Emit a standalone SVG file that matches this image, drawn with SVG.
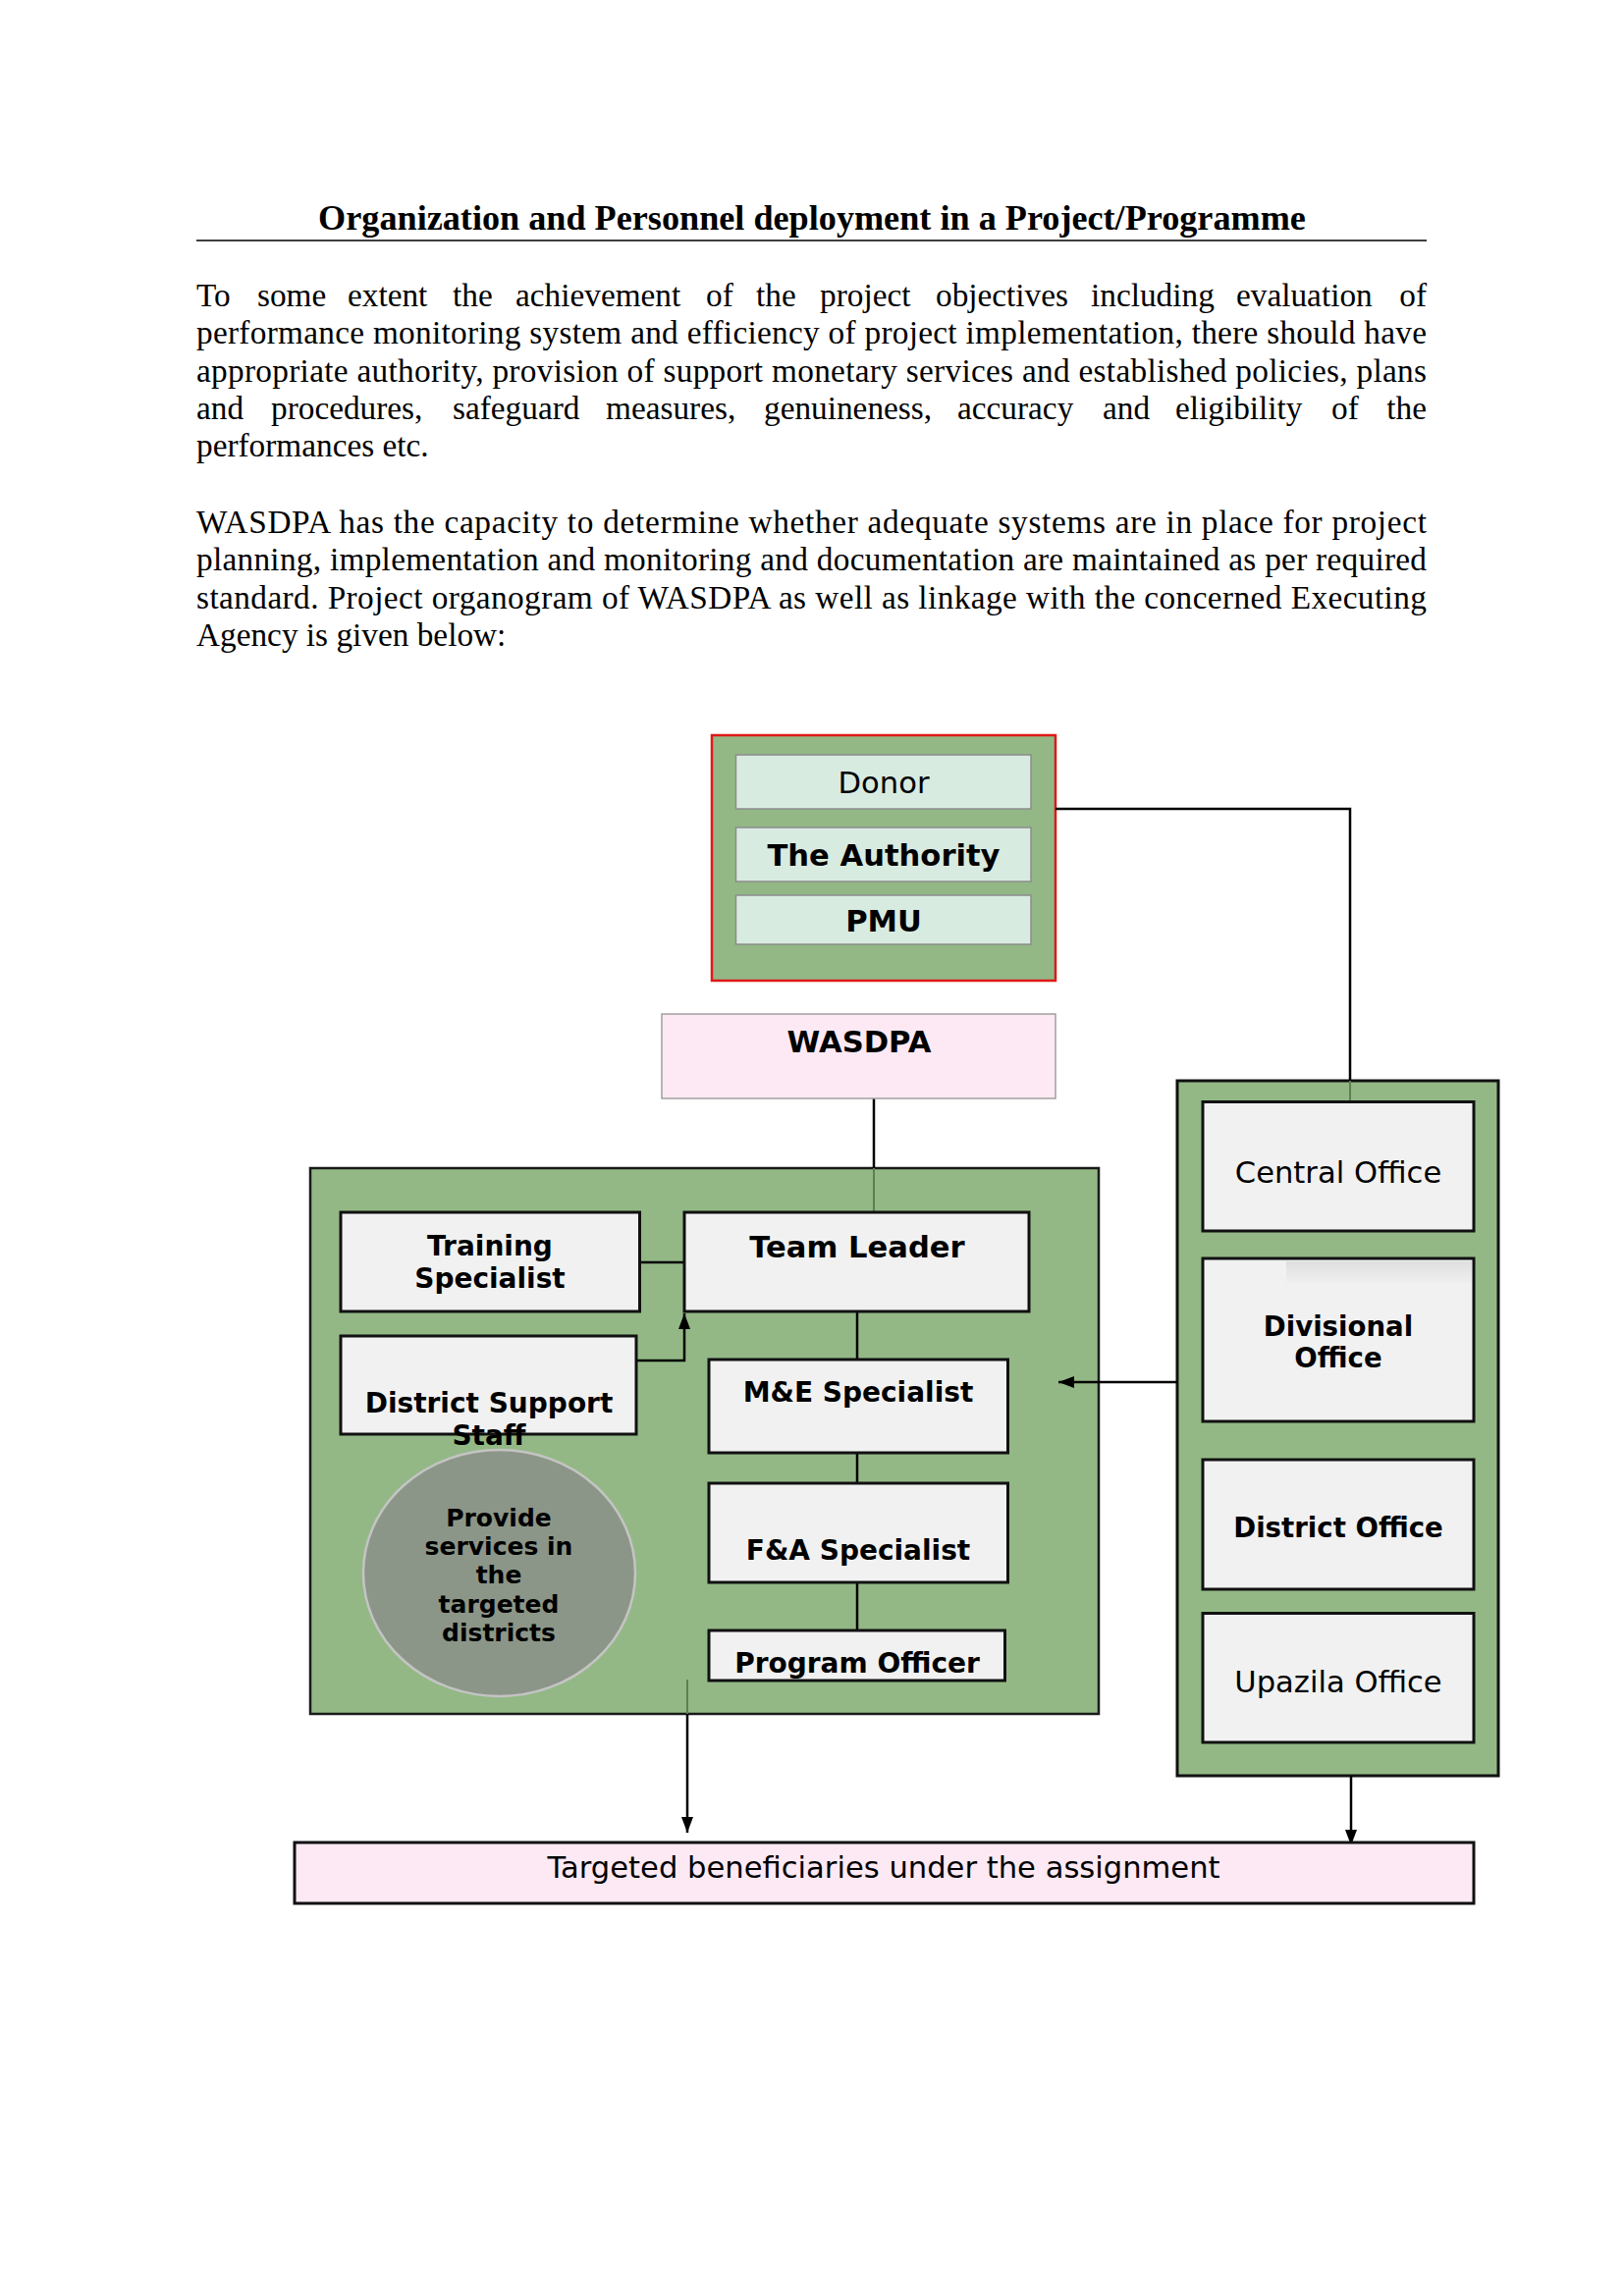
<svg xmlns="http://www.w3.org/2000/svg" width="1654" height="2339" viewBox="0 0 1654 2339">
<style>
.body{font-family:"Liberation Serif","Times New Roman",serif;font-size:33.3px;fill:#000}
.title{font-family:"Liberation Serif","Times New Roman",serif;font-size:36.2px;font-weight:bold;fill:#000}
.lbl{font-family:"DejaVu Sans","Noto Sans",sans-serif;font-size:30.6px;fill:#000;text-anchor:middle}
.b{font-weight:bold}
.s28{font-size:28px}
.s27{font-size:27.6px}
.s25{font-size:25px}
.green{fill:#93b886}
.gbox{fill:#f1f1f1;stroke:#111;stroke-width:3}
.mint{fill:#d8ebe0;stroke:#8c8c8c;stroke-width:1.5}
.conn{stroke:#000;stroke-width:2.5;fill:none}
.connin{stroke:#5d7f52;stroke-width:2;fill:none}
</style>
<defs>
<marker id="arr" markerUnits="userSpaceOnUse" markerWidth="16" markerHeight="12" refX="16" refY="6" orient="auto">
<path d="M0,0 L16,6 L0,12 z" fill="#000"/>
</marker>
<linearGradient id="stripe" x1="0" y1="0" x2="0" y2="1">
<stop offset="0" stop-color="#d2d2d2"/>
<stop offset="1" stop-color="#f1f1f1"/>
</linearGradient>
</defs>

<g id="text-block">
<text class="title" x="827" y="234" text-anchor="middle">Organization and Personnel deployment in a Project/Programme</text>
<line x1="200" y1="245" x2="1453" y2="245" stroke="#000" stroke-width="1.6"/>
<text class="body" y="312"><tspan x="200">To</tspan><tspan x="262">some</tspan><tspan x="354">extent</tspan><tspan x="461">the</tspan><tspan x="525">achievement</tspan><tspan x="719">of</tspan><tspan x="770">the</tspan><tspan x="835">project</tspan><tspan x="953">objectives</tspan><tspan x="1111">including</tspan><tspan x="1259">evaluation</tspan></text>
<text class="body" x="1453" y="312" text-anchor="end">of</text>
<text class="body" x="200" y="350" textLength="1253" lengthAdjust="spacing">performance monitoring system and efficiency of project implementation, there should have</text>
<text class="body" x="200" y="389" textLength="1253" lengthAdjust="spacing">appropriate authority, provision of support monetary services and established policies, plans</text>
<text class="body" y="427"><tspan x="200">and</tspan><tspan x="276">procedures,</tspan><tspan x="461">safeguard</tspan><tspan x="617">measures,</tspan><tspan x="778">genuineness,</tspan><tspan x="975">accuracy</tspan><tspan x="1123">and</tspan><tspan x="1197">eligibility</tspan><tspan x="1356">of</tspan></text>
<text class="body" x="1453" y="427" text-anchor="end">the</text>
<text class="body" x="200" y="465">performances etc.</text>
<text class="body" x="200" y="543" textLength="1253" lengthAdjust="spacing">WASDPA has the capacity to determine whether adequate systems are in place for project</text>
<text class="body" x="200" y="581" textLength="1253" lengthAdjust="spacing">planning, implementation and monitoring and documentation are maintained as per required</text>
<text class="body" x="200" y="620" textLength="1253" lengthAdjust="spacing">standard. Project organogram of WASDPA as well as linkage with the concerned Executing</text>
<text class="body" x="200" y="658">Agency is given below:</text>
</g>

<g id="containers">
<rect id="top-group" x="725" y="749" width="350" height="250" class="green" stroke="#e01818" stroke-width="2.5"/>
<rect id="project-team" x="316" y="1190" width="803" height="556" class="green" stroke="#1a1a1a" stroke-width="2.5"/>
<rect id="executing-agency" x="1199" y="1101" width="327" height="708" class="green" stroke="#111" stroke-width="3"/>
</g>

<g id="connectors">
<polyline class="conn" points="1075,824 1375,824 1375,1101"/>
<line class="connin" x1="1375" y1="1101" x2="1375" y2="1122"/>
<line class="conn" x1="890" y1="1119" x2="890" y2="1190"/>
<line class="connin" x1="890" y1="1190" x2="890" y2="1235"/>
<line class="conn" x1="651" y1="1286" x2="697" y2="1286"/>
<polyline class="conn" points="648,1386 697,1386 697,1338" marker-end="url(#arr)"/>
<line class="conn" x1="873" y1="1336" x2="873" y2="1385"/>
<line class="conn" x1="873" y1="1480" x2="873" y2="1511"/>
<line class="conn" x1="873" y1="1612" x2="873" y2="1661"/>
<line class="conn" x1="1199" y1="1408" x2="1078" y2="1408" marker-end="url(#arr)"/>
<line class="connin" x1="700" y1="1711" x2="700" y2="1746"/>
<line class="conn" x1="700" y1="1746" x2="700" y2="1867" stroke-width="2" marker-end="url(#arr)"/>
<line class="conn" x1="1376" y1="1809" x2="1376" y2="1880" stroke-width="2" marker-end="url(#arr)"/>
</g>

<g id="donor">
<rect x="749.5" y="769" width="300.5" height="55" class="mint"/>
<text class="lbl" x="900" y="808">Donor</text>
</g>
<g id="authority">
<rect x="749.5" y="843" width="300.5" height="55" class="mint"/>
<text class="lbl b" x="900" y="882">The Authority</text>
</g>
<g id="pmu">
<rect x="749.5" y="912" width="300.5" height="50" class="mint"/>
<text class="lbl b" x="900" y="949">PMU</text>
</g>

<g id="wasdpa">
<rect x="674" y="1033" width="401" height="86" fill="#fde9f4" stroke="#a0a0a0" stroke-width="1.5"/>
<text class="lbl b" x="875" y="1072">WASDPA</text>
</g>

<g id="training-specialist">
<rect x="347" y="1235" width="304.5" height="101" class="gbox"/>
<text class="lbl b s28" x="499" y="1279">Training</text>
<text class="lbl b s28" x="499" y="1312">Specialist</text>
</g>
<g id="team-leader">
<rect x="697" y="1235" width="351" height="101" class="gbox"/>
<text class="lbl b" x="873" y="1281">Team Leader</text>
</g>
<g id="district-support-staff">
<rect x="347" y="1361" width="301" height="100" class="gbox"/>
<text class="lbl b s28" x="498" y="1439">District Support</text>
<text class="lbl b s28" x="498" y="1472">Staff</text>
</g>
<g id="me-specialist">
<rect x="722" y="1385" width="304.5" height="95" class="gbox"/>
<text class="lbl b s28" x="874" y="1428">M&amp;E Specialist</text>
</g>
<g id="fa-specialist">
<rect x="722" y="1511" width="304.5" height="101" class="gbox"/>
<text class="lbl b s28" x="874" y="1589">F&amp;A Specialist</text>
</g>
<g id="program-officer">
<rect x="722" y="1661" width="301.5" height="51" class="gbox"/>
<text class="lbl b s28" x="873" y="1704">Program Officer</text>
</g>
<g id="provide-services">
<ellipse cx="508.5" cy="1602.5" rx="138.5" ry="125.5" fill="#8c9688" stroke="#c4c4c4" stroke-width="2.5"/>
<text class="lbl b s25" x="508" y="1555">Provide</text>
<text class="lbl b s25" x="508" y="1584">services in</text>
<text class="lbl b s25" x="508" y="1613">the</text>
<text class="lbl b s25" x="508" y="1643">targeted</text>
<text class="lbl b s25" x="508" y="1672">districts</text>
</g>

<g id="central-office">
<rect x="1225" y="1122.5" width="276" height="131.5" class="gbox"/>
<text class="lbl" x="1363" y="1205">Central Office</text>
</g>
<g id="divisional-office">
<rect x="1225" y="1282" width="276" height="166" class="gbox"/>
<rect x="1310" y="1285" width="189" height="24" fill="url(#stripe)" opacity="0.6"/>
<text class="lbl b s27" x="1363" y="1361">Divisional</text>
<text class="lbl b s27" x="1363" y="1393">Office</text>
</g>
<g id="district-office">
<rect x="1225" y="1487" width="276" height="132" class="gbox"/>
<text class="lbl b s27" x="1363" y="1566">District Office</text>
</g>
<g id="upazila-office">
<rect x="1225" y="1643.5" width="276" height="131.5" class="gbox"/>
<text class="lbl" x="1363" y="1724">Upazila Office</text>
</g>

<g id="beneficiaries">
<rect x="300" y="1877" width="1201" height="62" fill="#fde9f4" stroke="#111" stroke-width="3"/>
<text class="lbl" x="900" y="1913">Targeted beneficiaries under the assignment</text>
</g>
</svg>
